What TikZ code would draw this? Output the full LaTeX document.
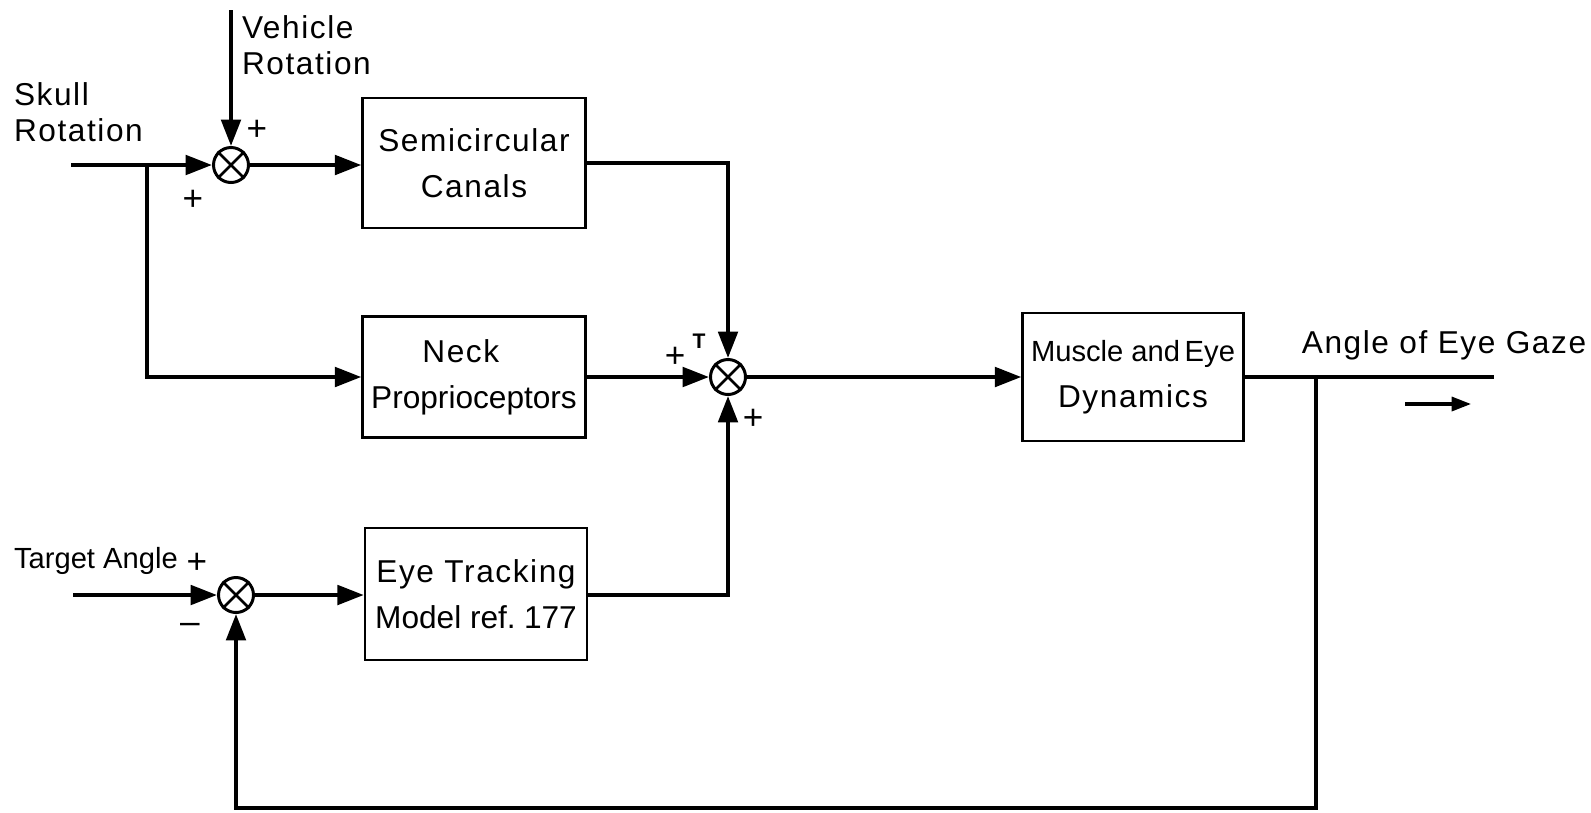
\documentclass[tikz,border=0pt]{standalone}
\usepackage{fontspec}
\setmainfont{Liberation Sans}[LetterSpace=5]
\usetikzlibrary{arrows.meta}
\newcommand{\tightls}{\addfontfeature{LetterSpace=0}}
\begin{document}
\begin{tikzpicture}[x=0.02cm,y=-0.02cm,
  line width=2.3pt,
  blk/.style={draw, line width=1.4pt, minimum width=4.46cm, align=center,
    font=\fontsize{18}{26}\selectfont, inner sep=0pt},
  sumj/.style={draw, circle, line width=1.7pt, minimum size=0.7cm, inner sep=0pt},
  arr/.style={-{Triangle[length=15pt,width=11pt]}},
  lbl/.style={font=\fontsize{18}{20.5}\selectfont, inner sep=0pt},
  sgn/.style={font=\fontsize{20}{20}\selectfont, inner sep=0pt}]
\useasboundingbox (0,0) rectangle (1591,812);

% blocks and summing junctions
\node[sumj] (s1) at (231,165) {};
\node[blk, minimum height=2.6cm] (sc) at (474,163) {Semicircular\\Canals};
\node[blk, minimum height=2.42cm] (np) at (474,377) {Neck\hspace*{15pt}\\{\tightls Proprioceptors}};
\node[sumj] (s2) at (728,377) {};
\node[blk, minimum width=4.42cm, minimum height=2.56cm] (md) at (1133,377) {{\fontsize{16.6}{26}\selectfont\tightls Muscle and\hspace{-2pt} Eye}\\Dynamics};
\node[sumj] (s3) at (236,595) {};
\node[blk, minimum width=4.44cm, minimum height=2.64cm] (et) at (476,594) {Eye Tracking\\{\tightls Model ref.\hspace{-2pt} 177}};

\foreach \s in {s1,s2,s3}{
  \draw[line width=1.5pt] (\s.45) -- (\s.225) (\s.135) -- (\s.315);
}

% free ends
\coordinate (skin) at (71,165);
\coordinate (br) at (147,165);
\coordinate (vin) at (231,10);
\coordinate (tin) at (73,595);
\coordinate (out) at (1494,377);
\coordinate (fb) at (1316,377);
\coordinate (fbb) at (1316,808);

% connectors
\draw (skin) -- (br);
\draw[arr] (br) -- (s1.west);
\draw[arr] (vin) -- (s1.north);
\draw[arr] (s1.east) -- (s1.east -| sc.west);
\draw[arr] (br) |- (np.west);
\draw[arr] (sc.east) -| (s2.north);
\draw[arr] (np.east) -- (s2.west);
\draw[arr] (s2.east) -- (md.west);
\draw (md.east) -- (out);
\draw[arr] (fb) -- (fbb) -| (s3.south);
\draw[arr] (tin) -- (s3.west);
\draw[arr] (s3.east) -- (s3.east -| et.west);
\draw[arr] (et.east |- s3) -| (s2.south);

% labels
\node[lbl, align=left, anchor=west] (skull) at (12,112) {Skull\\Rotation};
\node[lbl, align=left, anchor=west] (veh) at (240,45) {Vehicle\\Rotation};
\node[lbl, anchor=west, font=\fontsize{16.6}{18}\selectfont\tightls] (tgt) at (12,561) {Target Angle};
\node[lbl] (aeg) at (1444,345) {Angle of Eye Gaze};
\coordinate (sa1) at (1405,404);
\coordinate (sa2) at (1471,404);
\draw[-{Triangle[length=11pt,width=8pt]}, line width=1.8pt] (sa1) -- (sa2);

% signs
\node[sgn] (p1) at (257,130) {+};
\node[sgn] (p2) at (193,200) {+};
\node[sgn] (p3) at (675,357) {+};
\node[font=\fontsize{12}{12}\selectfont\bfseries, inner sep=0pt] (p4) at (699,341) {T};
\node[sgn] (p5) at (753,419) {+};
\node[sgn] (p6) at (197,563) {+};
\node[sgn] (p7) at (190,628) {–};
\end{tikzpicture}
\end{document}
